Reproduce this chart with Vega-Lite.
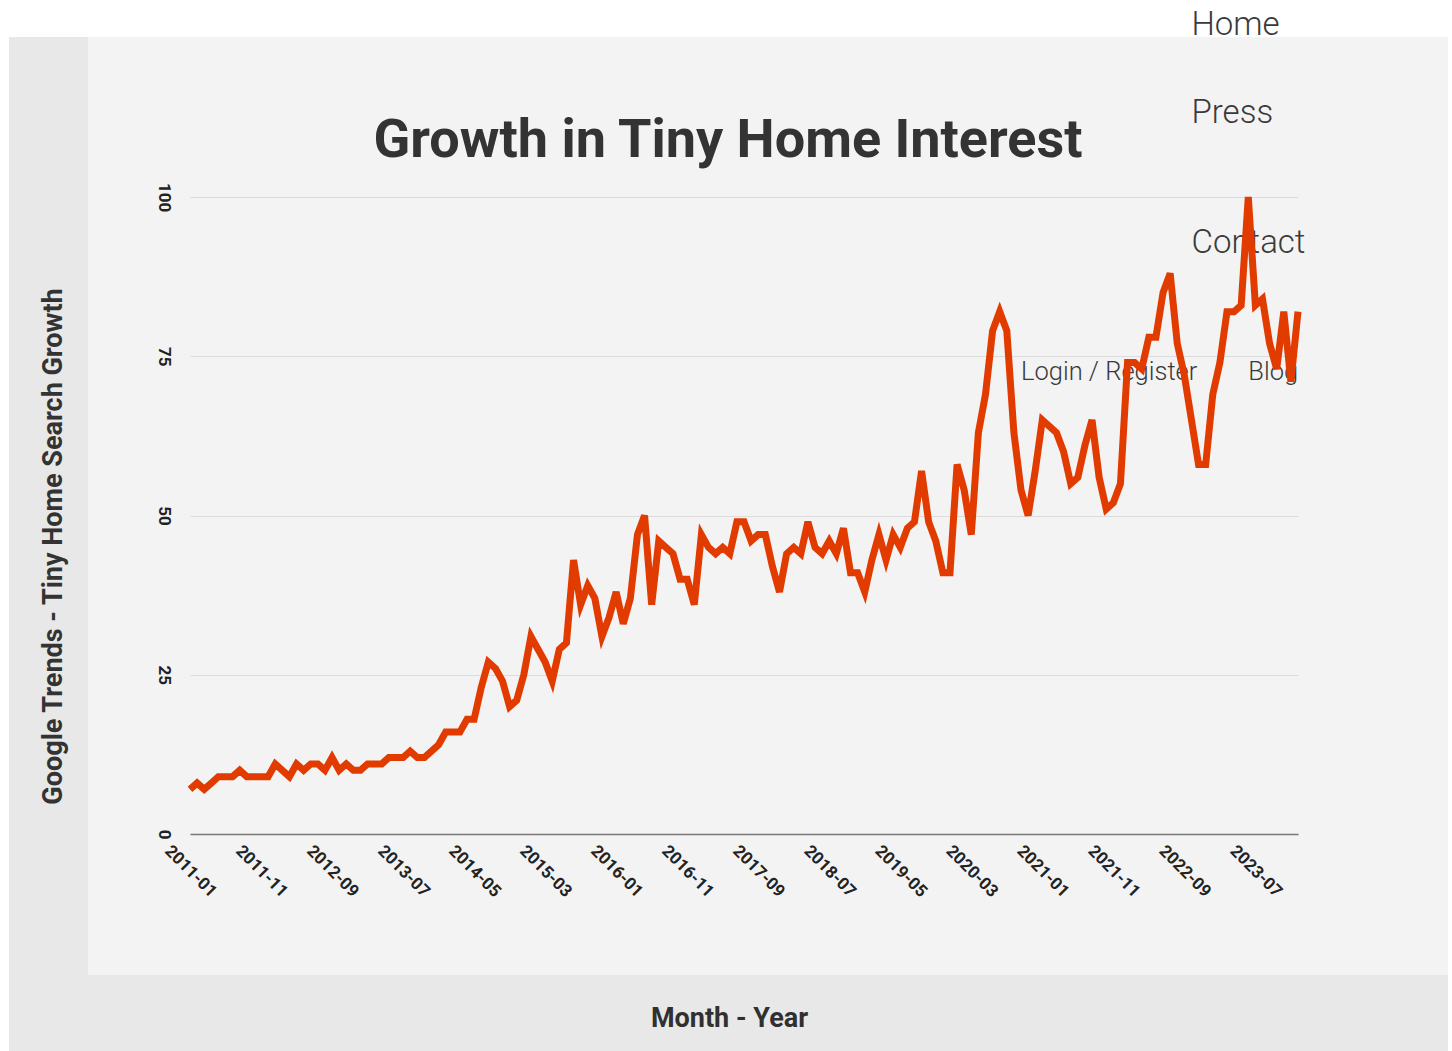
{
  "$schema": "https://vega.github.io/schema/vega-lite/v6.json",
  "background": "#f3f3f3",
  "padding": 0,
  "spacing": 0,
  "bounds": "flush",
  "columns": 6,
  "config": {"view": {"stroke": null}, "font": "Roboto"},
  "datasets": {
    "trend": [
      {"month": "2011-01", "value": 7}, {"month": "2011-02", "value": 8}, {"month": "2011-03", "value": 7}, {"month": "2011-04", "value": 8},
      {"month": "2011-05", "value": 9}, {"month": "2011-06", "value": 9}, {"month": "2011-07", "value": 9}, {"month": "2011-08", "value": 10},
      {"month": "2011-09", "value": 9}, {"month": "2011-10", "value": 9}, {"month": "2011-11", "value": 9}, {"month": "2011-12", "value": 9},
      {"month": "2012-01", "value": 11}, {"month": "2012-02", "value": 10}, {"month": "2012-03", "value": 9}, {"month": "2012-04", "value": 11},
      {"month": "2012-05", "value": 10}, {"month": "2012-06", "value": 11}, {"month": "2012-07", "value": 11}, {"month": "2012-08", "value": 10},
      {"month": "2012-09", "value": 12}, {"month": "2012-10", "value": 10}, {"month": "2012-11", "value": 11}, {"month": "2012-12", "value": 10},
      {"month": "2013-01", "value": 10}, {"month": "2013-02", "value": 11}, {"month": "2013-03", "value": 11}, {"month": "2013-04", "value": 11},
      {"month": "2013-05", "value": 12}, {"month": "2013-06", "value": 12}, {"month": "2013-07", "value": 12}, {"month": "2013-08", "value": 13},
      {"month": "2013-09", "value": 12}, {"month": "2013-10", "value": 12}, {"month": "2013-11", "value": 13}, {"month": "2013-12", "value": 14},
      {"month": "2014-01", "value": 16}, {"month": "2014-02", "value": 16}, {"month": "2014-03", "value": 16}, {"month": "2014-04", "value": 18},
      {"month": "2014-05", "value": 18}, {"month": "2014-06", "value": 23}, {"month": "2014-07", "value": 27}, {"month": "2014-08", "value": 26},
      {"month": "2014-09", "value": 24}, {"month": "2014-10", "value": 20}, {"month": "2014-11", "value": 21}, {"month": "2014-12", "value": 25},
      {"month": "2015-01", "value": 31}, {"month": "2015-02", "value": 29}, {"month": "2015-03", "value": 27}, {"month": "2015-04", "value": 24},
      {"month": "2015-05", "value": 29}, {"month": "2015-06", "value": 30}, {"month": "2015-07", "value": 43}, {"month": "2015-08", "value": 36},
      {"month": "2015-09", "value": 39}, {"month": "2015-10", "value": 37}, {"month": "2015-11", "value": 31}, {"month": "2015-12", "value": 34},
      {"month": "2016-01", "value": 38}, {"month": "2016-02", "value": 33}, {"month": "2016-03", "value": 37}, {"month": "2016-04", "value": 47},
      {"month": "2016-05", "value": 50}, {"month": "2016-06", "value": 36}, {"month": "2016-07", "value": 46}, {"month": "2016-08", "value": 45},
      {"month": "2016-09", "value": 44}, {"month": "2016-10", "value": 40}, {"month": "2016-11", "value": 40}, {"month": "2016-12", "value": 36},
      {"month": "2017-01", "value": 47}, {"month": "2017-02", "value": 45}, {"month": "2017-03", "value": 44}, {"month": "2017-04", "value": 45},
      {"month": "2017-05", "value": 44}, {"month": "2017-06", "value": 49}, {"month": "2017-07", "value": 49}, {"month": "2017-08", "value": 46},
      {"month": "2017-09", "value": 47}, {"month": "2017-10", "value": 47}, {"month": "2017-11", "value": 42}, {"month": "2017-12", "value": 38},
      {"month": "2018-01", "value": 44}, {"month": "2018-02", "value": 45}, {"month": "2018-03", "value": 44}, {"month": "2018-04", "value": 49},
      {"month": "2018-05", "value": 45}, {"month": "2018-06", "value": 44}, {"month": "2018-07", "value": 46}, {"month": "2018-08", "value": 44},
      {"month": "2018-09", "value": 48}, {"month": "2018-10", "value": 41}, {"month": "2018-11", "value": 41}, {"month": "2018-12", "value": 38},
      {"month": "2019-01", "value": 43}, {"month": "2019-02", "value": 47}, {"month": "2019-03", "value": 43}, {"month": "2019-04", "value": 47},
      {"month": "2019-05", "value": 45}, {"month": "2019-06", "value": 48}, {"month": "2019-07", "value": 49}, {"month": "2019-08", "value": 57},
      {"month": "2019-09", "value": 49}, {"month": "2019-10", "value": 46}, {"month": "2019-11", "value": 41}, {"month": "2019-12", "value": 41},
      {"month": "2020-01", "value": 58}, {"month": "2020-02", "value": 54}, {"month": "2020-03", "value": 47}, {"month": "2020-04", "value": 63},
      {"month": "2020-05", "value": 69}, {"month": "2020-06", "value": 79}, {"month": "2020-07", "value": 82}, {"month": "2020-08", "value": 79},
      {"month": "2020-09", "value": 63}, {"month": "2020-10", "value": 54}, {"month": "2020-11", "value": 50}, {"month": "2020-12", "value": 57},
      {"month": "2021-01", "value": 65}, {"month": "2021-02", "value": 64}, {"month": "2021-03", "value": 63}, {"month": "2021-04", "value": 60},
      {"month": "2021-05", "value": 55}, {"month": "2021-06", "value": 56}, {"month": "2021-07", "value": 61}, {"month": "2021-08", "value": 65},
      {"month": "2021-09", "value": 56}, {"month": "2021-10", "value": 51}, {"month": "2021-11", "value": 52}, {"month": "2021-12", "value": 55},
      {"month": "2022-01", "value": 74}, {"month": "2022-02", "value": 74}, {"month": "2022-03", "value": 73}, {"month": "2022-04", "value": 78},
      {"month": "2022-05", "value": 78}, {"month": "2022-06", "value": 85}, {"month": "2022-07", "value": 88}, {"month": "2022-08", "value": 77},
      {"month": "2022-09", "value": 72}, {"month": "2022-10", "value": 65}, {"month": "2022-11", "value": 58}, {"month": "2022-12", "value": 58},
      {"month": "2023-01", "value": 69}, {"month": "2023-02", "value": 74}, {"month": "2023-03", "value": 82}, {"month": "2023-04", "value": 82},
      {"month": "2023-05", "value": 83}, {"month": "2023-06", "value": 100}, {"month": "2023-07", "value": 83}, {"month": "2023-08", "value": 84},
      {"month": "2023-09", "value": 77}, {"month": "2023-10", "value": 73}, {"month": "2023-11", "value": 82}, {"month": "2023-12", "value": 71},
      {"month": "2024-01", "value": 82}
    ],
    "navBig": [
      {"label": "Home", "month": "2022-10", "value": 125.4},
      {"label": "Press", "month": "2022-10", "value": 111.6},
      {"label": "Contact", "month": "2022-10", "value": 91.2}
    ],
    "navSmall": [
      {"label": "Login / Register", "month": "2020-10", "value": 71.3},
      {"label": "Blog", "month": "2023-06", "value": 71.3}
    ]
  },
  "concat": [
    {"width": 9, "height": 37, "view": {"fill": "#ffffff"}, "data": {"values": []}, "mark": "point", "encoding": {}},
    {"width": 79, "height": 37, "view": {"fill": "#ffffff"}, "data": {"values": []}, "mark": "point", "encoding": {}},
    {"width": 102, "height": 37, "view": {"fill": "#ffffff"}, "data": {"values": []}, "mark": "point", "encoding": {}},
    {"width": 1108, "height": 37, "view": {"fill": "#ffffff"}, "data": {"values": []}, "mark": "point", "encoding": {}},
    {"width": 150, "height": 37, "view": {"fill": "#ffffff"}, "data": {"values": []}, "mark": "point", "encoding": {}},
    {"width": 4, "height": 37, "view": {"fill": "#ffffff"}, "data": {"values": []}, "mark": "point", "encoding": {}},

    {"width": 9, "height": 160, "view": {"fill": "#ffffff"}, "data": {"values": []}, "mark": "point", "encoding": {}},
    {"width": 79, "height": 160, "view": {"fill": "#000000", "fillOpacity": 0.045}, "data": {"values": []}, "mark": "point", "encoding": {}},
    {"width": 102, "height": 160, "data": {"values": []}, "mark": "point", "encoding": {}},
    {"width": 1108, "height": 160, "data": {"values": []}, "mark": "point", "encoding": {}},
    {"width": 150, "height": 160, "data": {"values": []}, "mark": "point", "encoding": {}},
    {"width": 4, "height": 160, "view": {"fill": "#ffffff"}, "data": {"values": []}, "mark": "point", "encoding": {}},

    {"width": 9, "height": 637, "view": {"fill": "#ffffff"}, "data": {"values": []}, "mark": "point", "encoding": {}},
    {"width": 79, "height": 637, "view": {"fill": "#000000", "fillOpacity": 0.045}, "data": {"values": []}, "mark": "point", "encoding": {}},
    {"width": 102, "height": 637, "data": {"values": []}, "mark": "point", "encoding": {}},
    {
      "width": 1108,
      "height": 637,
      "title": {"text": "Growth in Tiny Home Interest", "font": "Roboto", "fontSize": 54, "fontWeight": "bold", "color": "#333333", "anchor": "middle", "frame": "group", "offset": -159, "dx": -16},
      "encoding": {
        "x": {
          "field": "month", "type": "ordinal",
          "scale": {"type": "point", "padding": 0},
          "axis": {
            "values": ["2011-01","2011-11","2012-09","2013-07","2014-05","2015-03","2016-01","2016-11","2017-09","2018-07","2019-05","2020-03","2021-01","2021-11","2022-09","2023-07"],
            "title": "Month - Year", "titleFont": "Roboto", "titleFontSize": 27, "titleFontWeight": "bold", "titleColor": "#333333",
            "titleX": 539, "titleY": 192, "titleAlign": "center", "titleBaseline": "alphabetic",
            "labelAngle": 45, "labelAlign": "center", "labelBaseline": "middle", "labelPadding": 37,
            "labelFont": "Roboto", "labelFontSize": 17, "labelFontWeight": "bold", "labelColor": "#222222",
            "labelOverlap": false, "labelFlush": false,
            "ticks": false, "tickSize": 0, "grid": false,
            "domain": true, "domainColor": "#777777", "domainWidth": 1.5
          }
        },
        "y": {
          "field": "value", "type": "quantitative",
          "scale": {"domain": [0, 100], "nice": false, "zero": true},
          "axis": {
            "values": [0, 25, 50, 75, 100],
            "title": "Google Trends - Tiny Home Search Growth", "titleFont": "Roboto", "titleFontSize": 27, "titleFontWeight": "bold", "titleColor": "#333333",
            "titleX": -129, "titleY": 349, "titleAngle": -90, "titleAlign": "center", "titleBaseline": "alphabetic",
            "labelAngle": 90, "labelAlign": "center", "labelBaseline": "middle", "labelPadding": 27,
            "labelFont": "Roboto", "labelFontSize": 17, "labelFontWeight": "bold", "labelColor": "#222222",
            "labelOverlap": false, "labelFlush": false,
            "ticks": false, "tickSize": 0, "domain": false,
            "grid": true, "gridColor": "#dcdcdc", "gridWidth": 1
          }
        }
      },
      "layer": [
        {
          "data": {"name": "navBig"},
          "mark": {"type": "text", "font": "Roboto", "fontWeight": 300, "fontSize": 33, "align": "left", "baseline": "alphabetic", "color": "#3a3a3a"},
          "encoding": {"text": {"field": "label"}}
        },
        {
          "data": {"name": "navSmall"},
          "mark": {"type": "text", "font": "Roboto", "fontWeight": 300, "fontSize": 25.5, "align": "left", "baseline": "alphabetic", "color": "#3a3a3a"},
          "encoding": {"text": {"field": "label"}}
        },
        {
          "data": {"name": "trend"},
          "mark": {"type": "line", "color": "#e23b00", "strokeWidth": 7, "strokeJoin": "miter"}
        }
      ]
    },
    {"width": 150, "height": 637, "data": {"values": []}, "mark": "point", "encoding": {}},
    {"width": 4, "height": 637, "view": {"fill": "#ffffff"}, "data": {"values": []}, "mark": "point", "encoding": {}},

    {"width": 9, "height": 141, "view": {"fill": "#ffffff"}, "data": {"values": []}, "mark": "point", "encoding": {}},
    {"width": 79, "height": 141, "view": {"fill": "#000000", "fillOpacity": 0.045}, "data": {"values": []}, "mark": "point", "encoding": {}},
    {"width": 102, "height": 141, "data": {"values": []}, "mark": "point", "encoding": {}},
    {"width": 1108, "height": 141, "data": {"values": []}, "mark": "point", "encoding": {}},
    {"width": 150, "height": 141, "data": {"values": []}, "mark": "point", "encoding": {}},
    {"width": 4, "height": 141, "view": {"fill": "#ffffff"}, "data": {"values": []}, "mark": "point", "encoding": {}},

    {"width": 9, "height": 76, "view": {"fill": "#ffffff"}, "data": {"values": []}, "mark": "point", "encoding": {}},
    {"width": 79, "height": 76, "view": {"fill": "#000000", "fillOpacity": 0.045}, "data": {"values": []}, "mark": "point", "encoding": {}},
    {"width": 102, "height": 76, "view": {"fill": "#000000", "fillOpacity": 0.045}, "data": {"values": []}, "mark": "point", "encoding": {}},
    {"width": 1108, "height": 76, "view": {"fill": "#000000", "fillOpacity": 0.045}, "data": {"values": []}, "mark": "point", "encoding": {}},
    {"width": 150, "height": 76, "view": {"fill": "#000000", "fillOpacity": 0.045}, "data": {"values": []}, "mark": "point", "encoding": {}},
    {"width": 4, "height": 76, "view": {"fill": "#ffffff"}, "data": {"values": []}, "mark": "point", "encoding": {}}
  ]
}
